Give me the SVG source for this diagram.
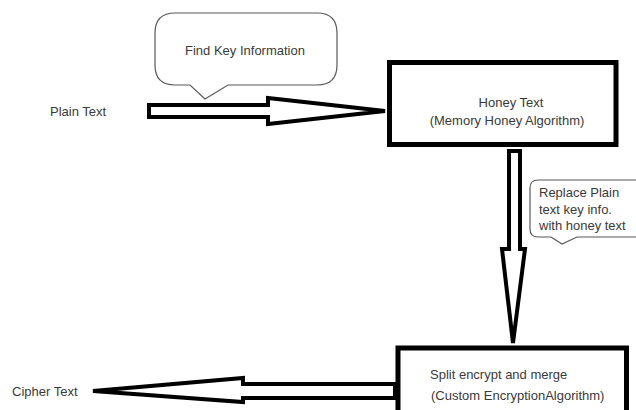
<svg xmlns="http://www.w3.org/2000/svg" width="636" height="410" viewBox="0 0 636 410">
<style>
.bg{fill:#ffffff}
.box{fill:#ffffff;stroke:#000000;stroke-width:5}
.arrow{fill:#ffffff;stroke:#000000;stroke-width:4;stroke-linejoin:miter}
.callout{fill:#ffffff;stroke:#595959;stroke-width:1.2}
.t{font-family:"Liberation Sans",Arial,sans-serif;font-size:13px;fill:#3a3a3a}
.m{text-anchor:middle}
</style>
<rect class="bg" x="0" y="0" width="636" height="410"/>
<g id="connectors">
<polygon class="arrow" points="149,105 268,105 268,98 385,111 268,124 268,117 149,117"/>
<polygon class="arrow" points="509,151 520,151 520,249 525,249 513,343 502,249 509,249"/>
<polygon class="arrow" points="395,384 243,384 243,378 93,391 243,402 243,398 395,398"/>
</g>
<g id="callout-find-key">
<path class="callout" d="M175,13 H317 Q337,13 337,33 V65 Q337,85 317,85 H228 L205,99 L190,85 H175 Q155,85 155,65 V33 Q155,13 175,13 Z"/>
<text class="t m" x="245" y="54.5">Find Key Information</text>
</g>
<g id="plain-text">
<text class="t" x="50" y="115.5">Plain Text</text>
</g>
<g id="honey-text">
<rect class="box" x="389.5" y="62.5" width="226.5" height="82"/>
<text class="t m" x="511" y="107">Honey Text</text>
<text class="t m" x="507" y="125">(Memory Honey Algorithm)</text>
</g>
<g id="callout-replace">
<path class="callout" d="M538,180 H640 V237 H577 L562,244 L551,237 H538 Q530,237 530,229 V188 Q530,180 538,180 Z"/>
<text class="t" x="539" y="197">Replace Plain</text>
<text class="t" x="539" y="213.5">text key info.</text>
<text class="t" x="539" y="230">with honey text</text>
</g>
<g id="split-encrypt">
<rect class="box" x="398" y="348" width="228.5" height="70"/>
<text class="t" x="430" y="378.5">Split encrypt and merge</text>
<text class="t" x="431" y="400">(Custom EncryptionAlgorithm)</text>
</g>
<g id="cipher-text">
<text class="t" x="12" y="395.5">Cipher Text</text>
</g>
</svg>
